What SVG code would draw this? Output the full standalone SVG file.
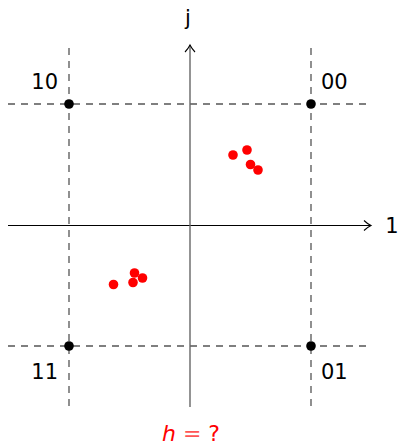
<svg xmlns="http://www.w3.org/2000/svg" width="401" height="446" viewBox="0 0 401 446">
<style>
.lbl{font-family:"DejaVu Sans","Liberation Sans",sans-serif;font-size:21px;fill:#000}
.dv{stroke:#555;stroke-width:1.3;stroke-dasharray:7,6;fill:none}
.dh{stroke:#000;stroke-width:1.2;stroke-dasharray:7,6;fill:none}
.red{fill:#ff0000}
.blk{fill:#000}
</style>
<defs>
<marker id="arr" markerWidth="10" markerHeight="12" refX="8" refY="6" orient="auto" markerUnits="userSpaceOnUse">
<path d="M1,1 Q4,4 8,6 Q4,8 1,11" fill="none" stroke="#000" stroke-width="1.1"/>
</marker>
</defs>
<g id="connectors">
<line class="dv" x1="69" y1="48" x2="69" y2="407"/>
<line class="dv" x1="311" y1="48" x2="311" y2="407"/>
<line class="dh" x1="8" y1="104" x2="368" y2="104"/>
<line class="dh" x1="8" y1="346" x2="368" y2="346"/>
<line x1="8" y1="225.5" x2="371" y2="225.5" stroke="#000" stroke-width="1.1" marker-end="url(#arr)"/>
<line x1="190" y1="407" x2="190" y2="45" stroke="#666" stroke-width="1.4" marker-end="url(#arr)"/>
</g>
<g id="axis-labels">
<text class="lbl" x="188" y="25" text-anchor="middle">j</text>
<text class="lbl" x="392" y="233" text-anchor="middle">1</text>
</g>
<g id="node-00"><circle class="blk" cx="311" cy="104" r="4.8"/><text class="lbl" x="321" y="89">00</text></g>
<g id="node-10"><circle class="blk" cx="69" cy="104" r="4.8"/><text class="lbl" x="58" y="89" text-anchor="end">10</text></g>
<g id="node-11"><circle class="blk" cx="69" cy="346" r="4.8"/><text class="lbl" x="58" y="379" text-anchor="end">11</text></g>
<g id="node-01"><circle class="blk" cx="311" cy="346" r="4.8"/><text class="lbl" x="321" y="379">01</text></g>
<g id="cluster-upper">
<circle class="red" cx="233" cy="155" r="4.8"/>
<circle class="red" cx="247" cy="150" r="4.8"/>
<circle class="red" cx="250.5" cy="164.5" r="4.8"/>
<circle class="red" cx="258" cy="170" r="4.8"/>
</g>
<g id="cluster-lower">
<circle class="red" cx="113.5" cy="284.5" r="4.8"/>
<circle class="red" cx="134.5" cy="273" r="4.8"/>
<circle class="red" cx="133" cy="282.5" r="4.8"/>
<circle class="red" cx="142.5" cy="278" r="4.8"/>
</g>
<g id="caption">
<text class="lbl" x="191" y="441" text-anchor="middle" style="fill:#ff0000;font-size:22px"><tspan font-style="italic">h</tspan><tspan fill="#ff5555"> = </tspan>?</text>
</g>
</svg>
